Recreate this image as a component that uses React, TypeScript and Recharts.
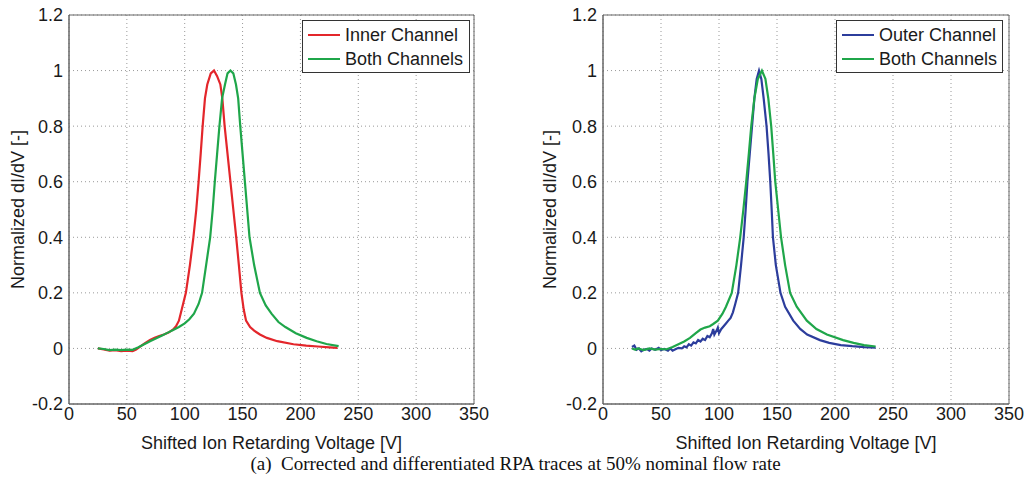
import React from "react";
import {
  LineChart,
  Line,
  XAxis,
  YAxis,
  CartesianGrid,
  ReferenceArea,
} from "recharts";

type Pt = [number, number];

const xTicks = [0, 50, 100, 150, 200, 250, 300, 350];
const yTicks = [-0.2, 0, 0.2, 0.4, 0.6, 0.8, 1, 1.2];

// left panel: inner channel vs both channels
const innerChannel: Pt[] = [
  [25, 0], [30, -0.004], [35, -0.008], [40, -0.006], [45, -0.01], [50, -0.008],
  [55, -0.01], [58, -0.004], [62, 0.008], [66, 0.02], [70, 0.03], [74, 0.038],
  [78, 0.045], [82, 0.05], [86, 0.057], [90, 0.068], [92.5, 0.08], [95, 0.1],
  [98, 0.15], [101, 0.2], [104.5, 0.3], [107.5, 0.4], [110, 0.5], [112, 0.6],
  [113.8, 0.7], [115.5, 0.8], [117.5, 0.9], [119.5, 0.95], [122.5, 0.99], [125.3, 1.0],
  [128, 0.98], [130.8, 0.95], [132.5, 0.9], [134.5, 0.8], [137, 0.7], [139.5, 0.6],
  [142, 0.5], [144.5, 0.4], [146.8, 0.3], [149, 0.2], [151, 0.14], [153, 0.1],
  [156.5, 0.077], [160, 0.064], [165, 0.05], [171, 0.038], [180, 0.026],
  [194, 0.015], [205, 0.01], [215, 0.007], [225, 0.004], [232, 0.002],
];

const bothChannelsLeft: Pt[] = [
  [25, 0], [30, -0.002], [35, -0.006], [40, -0.004], [45, -0.006], [50, -0.004],
  [55, -0.005], [60, 0.004], [65, 0.015], [70, 0.026], [75, 0.036], [80, 0.046],
  [85, 0.056], [90, 0.066], [95, 0.077], [100, 0.09], [104, 0.105], [108, 0.125],
  [112, 0.16], [115, 0.2], [118.5, 0.3], [122, 0.4], [124.2, 0.5], [126, 0.6],
  [128, 0.7], [130, 0.8], [132.3, 0.9], [134.8, 0.95], [137, 0.99], [139.5, 1.0],
  [142, 0.99], [144.3, 0.95], [146.2, 0.9], [148, 0.8], [150, 0.7], [152, 0.6],
  [154, 0.5], [156, 0.4], [160, 0.3], [165, 0.2], [170, 0.155], [175, 0.125],
  [181, 0.095], [187, 0.077], [196, 0.055], [205.4, 0.038], [214, 0.026],
  [222.5, 0.016], [233, 0.008],
];

// right panel: outer channel vs both channels
const outerChannel: Pt[] = [
  [25, 0.005], [27, 0.01], [29, -0.005], [31, 0], [33, -0.01], [35, -0.005],
  [38, -0.002], [40, -0.008], [42, 0], [45, -0.005], [48, 0.002], [50, -0.006],
  [53, -0.002], [56, -0.008], [58, 0], [60, -0.008], [62, -0.004], [65, 0.002],
  [68, 0], [70, 0.008], [72, 0.004], [74, 0.015], [76, 0.01], [78, 0.022],
  [80, 0.018], [82, 0.03], [84, 0.025], [86, 0.035], [88, 0.03], [90, 0.045],
  [92, 0.04], [94, 0.055], [95, 0.07], [96, 0.05], [98, 0.065], [99, 0.075],
  [100, 0.055], [102, 0.07], [104, 0.08], [106, 0.09], [108, 0.1], [110, 0.11],
  [112, 0.13], [114, 0.16], [116.5, 0.2], [119, 0.3], [121.3, 0.4], [123, 0.5],
  [124.5, 0.6], [126.5, 0.7], [128.5, 0.8], [130.5, 0.9], [132.5, 0.97], [134.5, 1.0],
  [136.5, 0.97], [138.5, 0.9], [141, 0.8], [142.7, 0.7], [144.2, 0.6], [145.4, 0.5],
  [146.5, 0.4], [149, 0.3], [153, 0.2], [157, 0.15], [164, 0.1], [170, 0.07],
  [176, 0.05], [187, 0.03], [195, 0.02], [205, 0.012], [215, 0.008], [225, 0.005],
  [235, 0.003],
];

const bothChannelsRight: Pt[] = [
  [25, 0], [28, -0.005], [30, 0], [35, -0.006], [40, 0], [45, -0.004], [50, -0.002],
  [55, -0.003], [60, 0.005], [65, 0.015], [70, 0.025], [75, 0.038], [80, 0.055],
  [84, 0.068], [88, 0.075], [92, 0.08], [95, 0.088], [99, 0.1], [103, 0.125],
  [106, 0.15], [111, 0.2], [115, 0.3], [118.3, 0.4], [121, 0.5], [123.5, 0.6],
  [125.7, 0.7], [127.8, 0.8], [130.5, 0.9], [133.5, 0.97], [137, 1.0], [140, 0.97],
  [142.5, 0.9], [145, 0.8], [146.8, 0.7], [148.5, 0.6], [151, 0.5], [153.5, 0.4],
  [157, 0.3], [161.3, 0.2], [167, 0.15], [175.7, 0.1], [184, 0.07], [193, 0.05],
  [207, 0.03], [216, 0.02], [225, 0.012], [235, 0.007],
];

const RED = "#e3262b";
const GREEN = "#1fa64a";
const BLUE = "#2c3d9c";
const FONT = "'Liberation Sans', Arial, sans-serif";
const FS = 18;

const toRows = (pts: Pt[]) => pts.map(([v, y]) => ({ v, y }));
const fmtY = (v: number) => String(Math.round(v * 10) / 10);

type Series = { name: string; color: string; pts: Pt[] };

function LegendBox({ items, left, width }: { items: Series[]; left: number; width: number }) {
  return (
    <div
      style={{
        position: "absolute",
        left,
        top: 20,
        width,
        height: 53,
        background: "#fff",
        border: "1px solid #333",
        fontFamily: FONT,
        fontSize: FS,
        color: "#1a1a1a",
        padding: "2px 0 2px 5px",
        boxSizing: "border-box",
        whiteSpace: "nowrap",
      }}
    >
      {items.map((s) => (
        <div key={s.name} style={{ display: "flex", alignItems: "center", height: 24 }}>
          <span style={{ display: "inline-block", width: 32, height: 2, background: s.color, marginRight: 5 }} />
          <span>{s.name}</span>
        </div>
      ))}
    </div>
  );
}

function Panel({
  left,
  width,
  yAxisWidth,
  rightMargin,
  legendLeft,
  legendWidth,
  labelOffset,
  series,
}: {
  left: number;
  width: number;
  yAxisWidth: number;
  rightMargin: number;
  legendLeft: number;
  legendWidth: number;
  labelOffset: number;
  series: Series[];
}) {
  const tick = { fill: "#1a1a1a", fontSize: FS, fontFamily: FONT };
  return (
    <div style={{ position: "absolute", left, top: 0, width, height: 460 }}>
      <LineChart width={width} height={460} margin={{ top: 15, right: rightMargin, bottom: 0, left: 0 }}>
        <CartesianGrid stroke="#999" strokeDasharray="1 3" />
        <XAxis
          type="number"
          dataKey="v"
          domain={[0, 350]}
          ticks={xTicks}
          allowDataOverflow
          height={56}
          tick={tick}
          tickLine={false}
          tickSize={3}
          tickMargin={0}
          axisLine={{ stroke: "#666" }}
          label={{
            value: "Shifted Ion Retarding Voltage [V]",
            position: "insideBottom",
            offset: 11,
            style: { fill: "#1a1a1a", fontSize: FS, fontFamily: FONT },
          }}
        />
        <YAxis
          type="number"
          domain={[-0.2, 1.2]}
          ticks={yTicks}
          allowDataOverflow
          width={yAxisWidth}
          tick={tick}
          tickFormatter={fmtY}
          tickLine={false}
          tickSize={4}
          tickMargin={2}
          axisLine={{ stroke: "#666" }}
          label={{
            value: "Normalized dI/dV [-]",
            angle: -90,
            position: "insideLeft",
            offset: labelOffset,
            style: { fill: "#1a1a1a", fontSize: FS, fontFamily: FONT, textAnchor: "middle" },
          }}
        />
        <ReferenceArea x1={0} x2={350} y1={-0.2} y2={1.2} fill="none" stroke="#666" strokeWidth={1} />
        {series.map((s) => (
          <Line
            key={s.name}
            data={toRows(s.pts)}
            dataKey="y"
            name={s.name}
            type="linear"
            stroke={s.color}
            strokeWidth={2.2}
            dot={false}
            activeDot={false}
            isAnimationActive={false}
          />
        ))}
      </LineChart>
      <LegendBox items={series} left={legendLeft} width={legendWidth} />
    </div>
  );
}

export default function App() {
  return (
    <div style={{ position: "absolute", left: 0, top: 0, width: 1029, height: 495, background: "#fff" }}>
      <Panel
        left={0}
        width={500}
        yAxisWidth={69}
        rightMargin={26}
        legendLeft={302}
        legendWidth={168}
        labelOffset={18}
        series={[
          { name: "Inner Channel", color: RED, pts: innerChannel },
          { name: "Both Channels", color: GREEN, pts: bothChannelsLeft },
        ]}
      />
      <Panel
        left={530}
        width={499}
        yAxisWidth={73}
        rightMargin={20}
        legendLeft={306}
        legendWidth={167}
        labelOffset={20}
        series={[
          { name: "Outer Channel", color: BLUE, pts: outerChannel },
          { name: "Both Channels", color: GREEN, pts: bothChannelsRight },
        ]}
      />
      <div
        style={{
          position: "absolute",
          left: 0,
          width: 1029,
          top: 453,
          textAlign: "center",
          fontFamily: "'Liberation Serif', 'Times New Roman', serif",
          fontSize: 19,
          color: "#111",
          paddingLeft: 1,
        }}
      >
        (a)&nbsp; Corrected and differentiated RPA traces at 50% nominal flow rate
      </div>
    </div>
  );
}
